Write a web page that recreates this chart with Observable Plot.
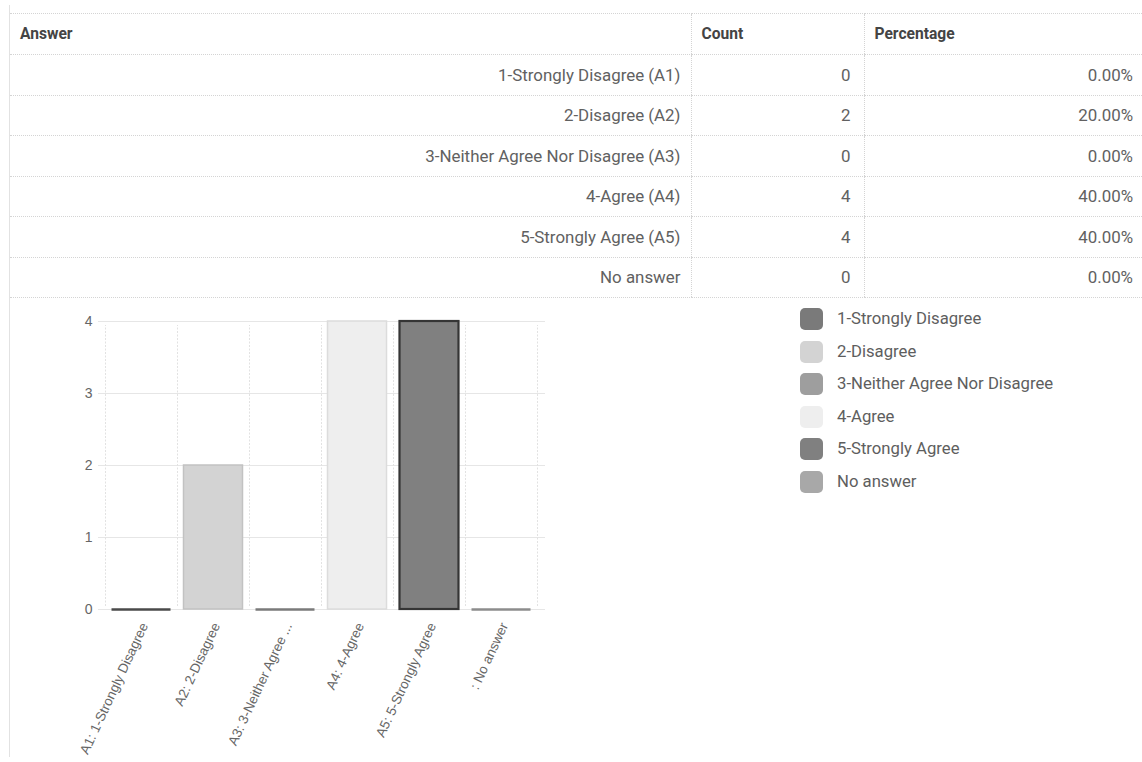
<!DOCTYPE html>
<html>
<head>
<meta charset="utf-8">
<script src="https://cdn.jsdelivr.net/npm/d3@7"></script>
<script src="https://cdn.jsdelivr.net/npm/@observablehq/plot@0.6"></script>
<style>
  html, body { margin: 0; padding: 0; background: #fff; width: 1142px; height: 762px; overflow: hidden; }
  body { position: relative; font-family: Roboto, "Noto Sans", sans-serif; color: #5a5a5a; }
  #leftline { position: absolute; left: 9px; top: 5px; width: 1px; height: 752px; background: #e2e2e2; }
  table { position: absolute; left: 10px; top: 13px; width: 1132px; border-collapse: collapse; font-size: 16.9px; table-layout: fixed; }
  th, td { border-top: 1px dotted #d4d4d4; border-bottom: 1px dotted #d4d4d4; padding: 0 10px; height: 40.5px; box-sizing: border-box; white-space: nowrap; }
  th { text-align: left; font-weight: 700; color: #444; height: 41px; font-size: 15.6px; }
  td { text-align: right; color: #616161; }
  td + td, th + th { border-left: 1px dotted #d4d4d4; }
  td.pct { padding-right: 9px; }
  td.cnt { padding-right: 13px; }
  #chart { position: absolute; left: 10px; top: 298px; }
  #legend { position: absolute; left: 800px; top: 308px; font-size: 16.7px; color: #5e5e5e; }
  .row { height: 32.6px; display: flex; align-items: flex-start; }
  .sw { width: 23px; height: 22px; border-radius: 5px; margin-right: 14px; flex: none; }
  .lt { line-height: 22px; white-space: nowrap; }
</style>
</head>
<body>
<div id="leftline"></div>
<table id="tbl">
  <colgroup><col style="width:681px"><col style="width:173px"><col style="width:278px"></colgroup>
  <thead><tr><th>Answer</th><th>Count</th><th>Percentage</th></tr></thead>
  <tbody></tbody>
</table>
<div id="chart"></div>
<div id="legend"></div>
<script>
// ---- data ----
const answers = ["1-Strongly Disagree (A1)", "2-Disagree (A2)", "3-Neither Agree Nor Disagree (A3)", "4-Agree (A4)", "5-Strongly Agree (A5)", "No answer"];
const counts = [0, 2, 0, 4, 4, 0];
const percentages = ["0.00%", "20.00%", "0.00%", "40.00%", "40.00%", "0.00%"];
const axisLabels = ["A1: 1-Strongly Disagree", "A2: 2-Disagree", "A3: 3-Neither Agree ...", "A4: 4-Agree", "A5: 5-Strongly Agree", ": No answer"];
const legendLabels = ["1-Strongly Disagree", "2-Disagree", "3-Neither Agree Nor Disagree", "4-Agree", "5-Strongly Agree", "No answer"];
const yTicks = [0, 1, 2, 3, 4];
// ---- styles ----
const fills = ["#7a7a7a", "#d3d3d3", "#9e9e9e", "#eeeeee", "#808080", "#a8a8a8"];
const strokes = ["#4a4a4a", "#c2c2c2", "#7a7a7a", "#dcdcdc", "#353535", "#8c8c8c"];
const strokeWidths = [2.5, 1.5, 2.5, 1.5, 2.2, 2.5];

// table
const tbody = document.querySelector("#tbl tbody");
answers.forEach((a, i) => {
  const tr = document.createElement("tr");
  tr.innerHTML = `<td>${a}</td><td class="cnt">${counts[i]}</td><td class="pct">${percentages[i]}</td>`;
  tbody.appendChild(tr);
});

const data = answers.map((a, i) => ({i, count: counts[i], label: axisLabels[i], fill: fills[i], stroke: strokes[i], sw: strokeWidths[i]}));
const n = data.length;

const chart = Plot.plot({
  width: 550,
  height: 464,
  marginLeft: 95,
  marginRight: 23,
  marginTop: 23,
  marginBottom: 153,
  x: {domain: [0, n], axis: null},
  y: {domain: [0, 4], axis: null},
  color: {type: "identity"},
  style: {fontFamily: "'Liberation Sans', Arial, sans-serif", fontSize: "13.5px", color: "#666", background: "transparent", overflow: "visible"},
  marks: [
    Plot.ruleY(yTicks, {y: d => d, stroke: "#e6e6e6", strokeWidth: 1.2, insetLeft: -7, insetRight: -8}),
    Plot.ruleX(d3.range(n + 1), {x: d => d, y1: 0, y2: 4, stroke: "#e2e2e2", strokeDasharray: "2,1.5", insetTop: -3, insetBottom: -4}),
    Plot.text(yTicks, {x: 0, y: d => d, text: d => String(d), textAnchor: "end", dx: -13, fill: "#666", fontSize: 14}),
    Plot.rectY(data.filter(d => d.count > 0), {x1: "i", x2: d => d.i + 1, y1: 0, y2: "count", fill: "fill", stroke: "stroke", strokeWidth: "sw", insetLeft: 6.5, insetRight: 6.5}),
    Plot.ruleY(data.filter(d => d.count === 0), {y: "count", x1: "i", x2: d => d.i + 1, stroke: "stroke", strokeWidth: "sw", insetLeft: 6.5, insetRight: 6.5}),
    Plot.text(data, {x: d => d.i + 0.5, y: 0, text: "label", rotate: -65, textAnchor: "end", dx: 3, dy: 14, fill: "#666", fontSize: 13.5})
  ]
});
document.getElementById("chart").appendChild(chart);

// legend
const legend = document.getElementById("legend");
legendLabels.forEach((l, i) => {
  const row = document.createElement("div");
  row.className = "row";
  row.innerHTML = `<div class="sw" style="background:${fills[i]}"></div><div class="lt">${l}</div>`;
  legend.appendChild(row);
});
</script>
</body>
</html>
